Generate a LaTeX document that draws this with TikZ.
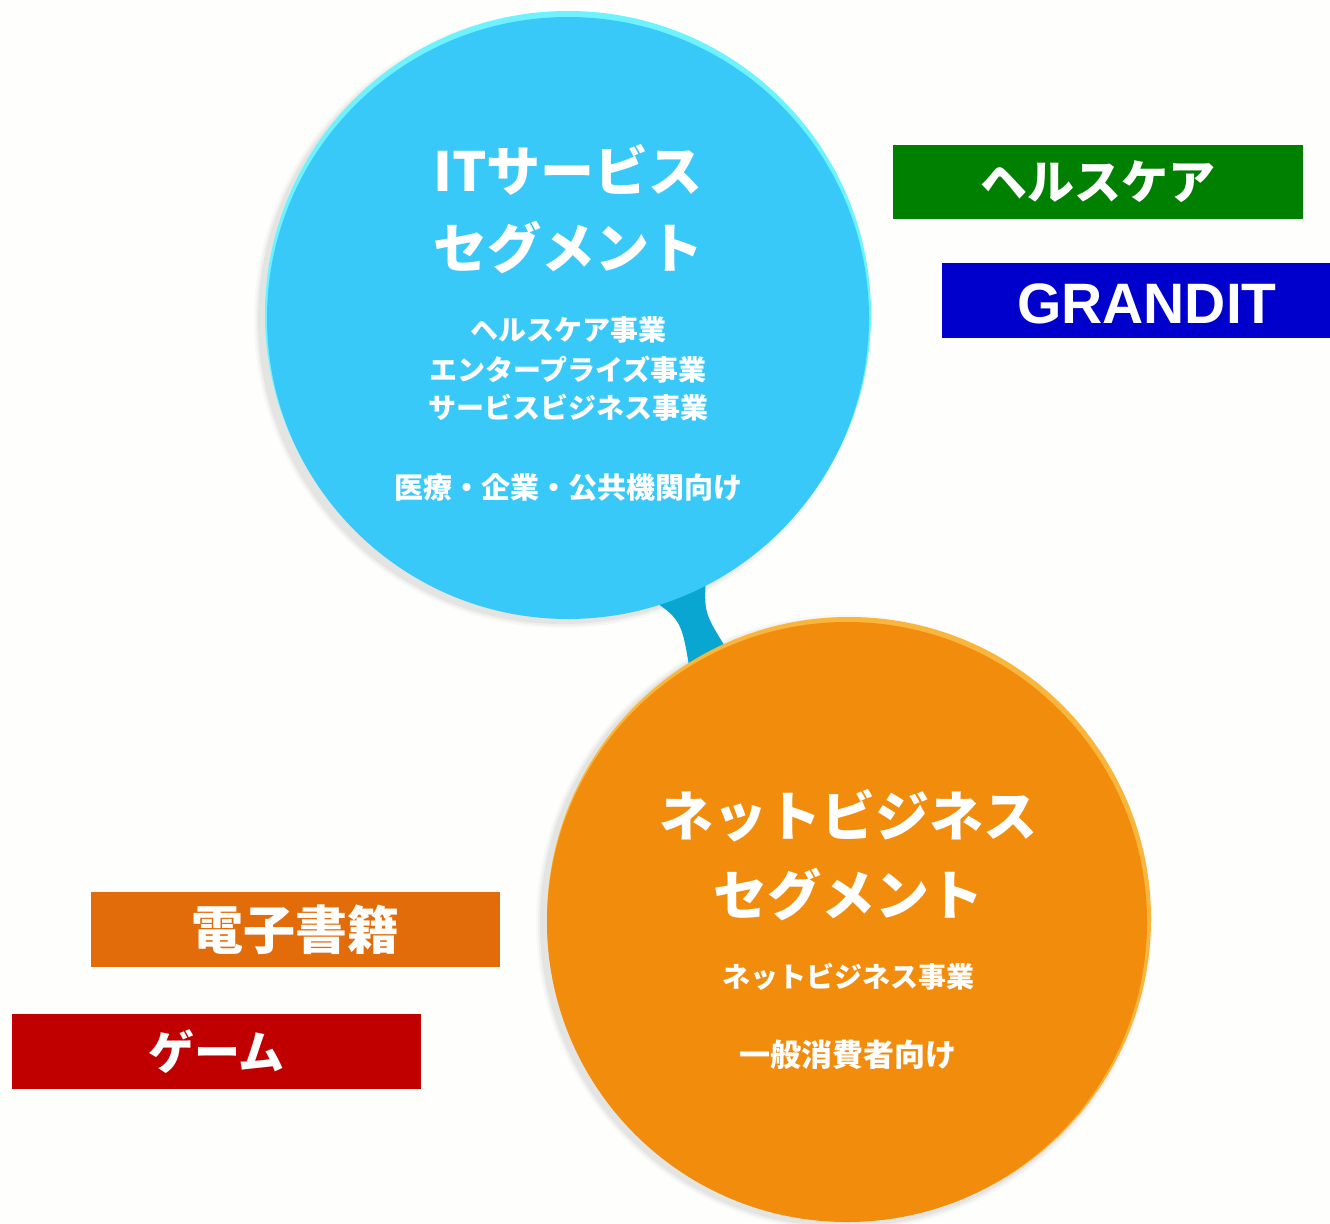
\documentclass[tikz,border=0pt]{standalone}
\usepackage{fontspec}
\setmainfont{Liberation Sans}
\newfontfamily\jp{Noto Sans CJK JP}
\definecolor{bg}{HTML}{FEFEFC}
\definecolor{itblue}{HTML}{39C9F9}
\definecolor{itrim}{HTML}{6CF3FF}
\definecolor{neck}{HTML}{0AA6D2}
\definecolor{netorange}{HTML}{F28C0C}
\definecolor{netrim}{HTML}{F9B53C}
\definecolor{hgreen}{HTML}{008000}
\definecolor{gblue}{HTML}{0000CC}
\definecolor{eorange}{HTML}{E36C0A}
\definecolor{gred}{HTML}{C00000}
\tikzset{
  circ/.style={circle, inner sep=0pt},
  bigt/.style={text=white, inner sep=0pt, font=\jp\bfseries\fontsize{54}{58}\selectfont},
  smallt/.style={text=white, inner sep=0pt, font=\jp\bfseries\fontsize{28}{32}\selectfont},
  box/.style={inner sep=0pt, text=white, font=\jp\bfseries\fontsize{48}{52}\selectfont},
}
\begin{document}
\begin{tikzpicture}[x=1pt,y=-1pt]
\useasboundingbox[fill=bg] (0,0) rectangle (1330,1223);
% soft shadows
\foreach \r/\o in {308/0.025,306/0.035,304/0.045} {
  \fill[black, opacity=\o] (562,320) circle (\r);
  \fill[black, opacity=\o] (844,923) circle (\r);
}
% connector neck
\fill[neck] (645,595) .. controls (681.5,619.5) .. (690,672) -- (726,648) .. controls (704,612.5) .. (706,575) -- cycle;
% IT circle
\fill[itrim] (568,314) circle (303);
\node[circ, fill=itblue, minimum size=602] (itseg) at (568,318) {};
% Net circle
\fill[netrim] (849,919) circle (302);
\node[circ, fill=netorange, minimum size=600] (netseg) at (847,922) {};
% IT texts
\node[bigt] (it1) at (568,170) {ITサービス};
\node[bigt] (it2) at (568,247) {セグメント};
\node[smallt] (it3) at (568,330) {ヘルスケア事業};
\node[smallt] (it4) at (568,370) {エンタープライズ事業};
\node[smallt] (it5) at (568,408) {サービスビジネス事業};
\node[smallt, font=\jp\bfseries\fontsize{29}{32}\selectfont] (it6) at (568,487) {医療・企業・公共機関向け};
% Net texts
\node[bigt] (nt1) at (848,816) {ネットビジネス};
\node[bigt] (nt2) at (848,894) {セグメント};
\node[smallt] (nt3) at (848,977) {ネットビジネス事業};
\node[smallt, font=\jp\bfseries\fontsize{31}{34}\selectfont] (nt4) at (848,1055) {一般消費者向け};
% boxes
\node[box, fill=hgreen, minimum width=410, minimum height=74, font=\jp\bfseries\fontsize{47}{50}\selectfont] (hc) at (1098,182) {ヘルスケア};
\node[box, fill=gblue, minimum width=388, minimum height=75] (gr) at (1136,300.5) {};
\node[text=white, inner sep=0pt, font=\bfseries\fontsize{57}{60}\selectfont] (grt) at (1147,304) {GRANDIT};
\node[box, fill=eorange, minimum width=409, minimum height=75, font=\jp\bfseries\fontsize{52}{56}\selectfont] (eb) at (295.5,929.5) {電子書籍};
\node[box, fill=gred, minimum width=409, minimum height=75, font=\jp\bfseries\fontsize{46}{50}\selectfont] (gm) at (216.5,1051.5) {ゲーム};
\end{tikzpicture}
\end{document}
